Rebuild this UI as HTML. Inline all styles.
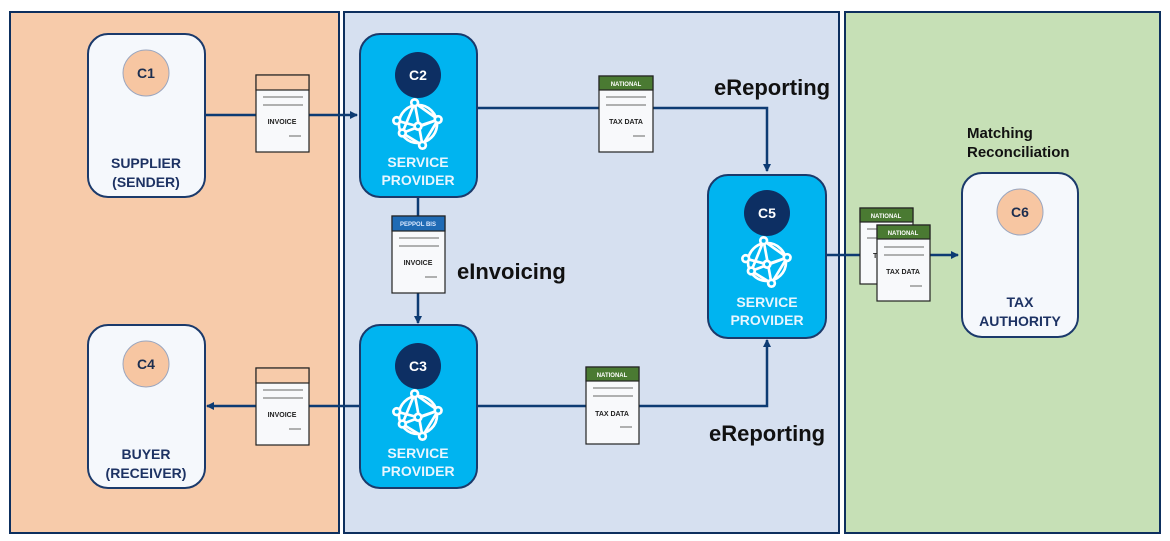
<!DOCTYPE html>
<html><head><meta charset="utf-8"><style>
html,body{margin:0;padding:0;background:#fff;width:1170px;height:541px;overflow:hidden}
text{font-family:"Liberation Sans",sans-serif}
</style></head><body>
<svg width="1170" height="541" viewBox="0 0 1170 541" xmlns="http://www.w3.org/2000/svg">
<defs>
<marker id="ar" markerWidth="8" markerHeight="8" refX="7" refY="4" orient="auto" markerUnits="userSpaceOnUse"><path d="M0,0 L8,4 L0,8 z" fill="#0d3b73"/></marker>
<g id="globe" fill="none" stroke="#fff" stroke-width="2.4" transform="scale(1.12)">
<circle cx="0" cy="0" r="17"/>
<path d="M-3,-19 L-14,8 L4,19 L18,-4 L-3,-19 M-14,8 L18,-4 M-3,-19 L4,19 M-19,-3 L0,2 L18,-4"/>
<circle cx="-3" cy="-19" r="3" fill="#00b4f0"/><circle cx="-14" cy="8" r="3" fill="#00b4f0"/><circle cx="4" cy="19" r="3" fill="#00b4f0"/><circle cx="18" cy="-4" r="3" fill="#00b4f0"/><circle cx="-19" cy="-3" r="3" fill="#00b4f0"/><circle cx="0" cy="2" r="3" fill="#00b4f0"/>
</g>
</defs>
<rect x="10" y="12" width="329" height="521" fill="#f7cbaa" stroke="#0d2f5e" stroke-width="2"/>
<rect x="344" y="12" width="495" height="521" fill="#d6e0f0" stroke="#0d2f5e" stroke-width="2"/>
<rect x="845" y="12" width="315" height="521" fill="#c6e0b6" stroke="#0d2f5e" stroke-width="2"/>

<g stroke="#0d3b73" stroke-width="2.5" fill="none">
<line x1="205" y1="115" x2="357" y2="115" marker-end="url(#ar)"/>
<polyline points="477,108 767,108 767,171" marker-end="url(#ar)"/>
<line x1="418" y1="197" x2="418" y2="323" marker-end="url(#ar)"/>
<line x1="360" y1="406" x2="207" y2="406" marker-end="url(#ar)"/>
<polyline points="477,406 767,406 767,340" marker-end="url(#ar)"/>
<line x1="826" y1="255" x2="958" y2="255" marker-end="url(#ar)"/>
</g>

<g stroke="#1b3a6b" stroke-width="2">
<rect x="88" y="34" width="117" height="163" rx="20" fill="#f5f8fc"/>
<rect x="88" y="325" width="117" height="163" rx="20" fill="#f5f8fc"/>
<rect x="962" y="173" width="116" height="164" rx="20" fill="#f5f8fc"/>
<rect x="360" y="34" width="117" height="163" rx="20" fill="#00b4f0"/>
<rect x="360" y="325" width="117" height="163" rx="20" fill="#00b4f0"/>
<rect x="708" y="175" width="118" height="163" rx="20" fill="#00b4f0"/>
</g>
<g stroke="#9aa6bf" stroke-width="1">
<circle cx="146" cy="73" r="23" fill="#f7c6a2"/>
<circle cx="146" cy="364" r="23" fill="#f7c6a2"/>
<circle cx="1020" cy="212" r="23" fill="#f7c6a2"/>
</g>
<circle cx="418" cy="75" r="23" fill="#0d2f63"/>
<circle cx="418" cy="366" r="23" fill="#0d2f63"/>
<circle cx="767" cy="213" r="23" fill="#0d2f63"/>
<g font-weight="bold" font-size="14" text-anchor="middle">
<text x="146" y="78" fill="#1d2e4f">C1</text>
<text x="146" y="369" fill="#1d2e4f">C4</text>
<text x="1020" y="217" fill="#1d2e4f">C6</text>
<text x="418" y="80" fill="#fff">C2</text>
<text x="418" y="371" fill="#fff">C3</text>
<text x="767" y="218" fill="#fff">C5</text>
</g>
<use href="#globe" x="418" y="124"/>
<use href="#globe" x="418" y="415"/>
<use href="#globe" x="767" y="262"/>
<g font-weight="bold" font-size="14" text-anchor="middle">
<text x="146" y="168" fill="#1d3263">SUPPLIER</text><text x="146" y="187" fill="#1d3263">(SENDER)</text>
<text x="146" y="459" fill="#1d3263">BUYER</text><text x="146" y="478" fill="#1d3263">(RECEIVER)</text>
<text x="1020" y="307" fill="#1d3263">TAX</text><text x="1020" y="326" fill="#1d3263">AUTHORITY</text>
<text x="418" y="167" fill="#e8f6ff">SERVICE</text><text x="418" y="185" fill="#e8f6ff">PROVIDER</text>
<text x="418" y="458" fill="#e8f6ff">SERVICE</text><text x="418" y="476" fill="#e8f6ff">PROVIDER</text>
<text x="767" y="307" fill="#e8f6ff">SERVICE</text><text x="767" y="325" fill="#e8f6ff">PROVIDER</text>
</g>

<g font-weight="bold" font-size="7" text-anchor="middle">
<rect x="256" y="75" width="53" height="77" fill="#f8f9fb" stroke="#222" stroke-width="1.2"/>
<rect x="256" y="75" width="53" height="15" fill="#f7cbaa" stroke="#222" stroke-width="1.2"/>
<path d="M263,97h40M263,105h40M289,136h12" stroke="#666" stroke-width="1"/>
<text x="282" y="124" fill="#222">INVOICE</text>
<rect x="256" y="368" width="53" height="77" fill="#f8f9fb" stroke="#222" stroke-width="1.2"/>
<rect x="256" y="368" width="53" height="15" fill="#f7cbaa" stroke="#222" stroke-width="1.2"/>
<path d="M263,390h40M263,398h40M289,429h12" stroke="#666" stroke-width="1"/>
<text x="282" y="417" fill="#222">INVOICE</text>
<rect x="392" y="216" width="53" height="77" fill="#f8f9fb" stroke="#222" stroke-width="1.2"/>
<rect x="392" y="216" width="53" height="15" fill="#1f6bb5" stroke="#222" stroke-width="1.2"/>
<text x="418" y="226" fill="#dce9ff" font-size="6">PEPPOL BIS</text>
<path d="M399,238h40M399,246h40M425,277h12" stroke="#666" stroke-width="1"/>
<text x="418" y="265" fill="#222">INVOICE</text>
<rect x="599" y="76" width="54" height="76" fill="#f8f9fb" stroke="#222" stroke-width="1.2"/>
<rect x="599" y="76" width="54" height="14" fill="#4a7a32" stroke="#222" stroke-width="1.2"/>
<text x="626" y="86" fill="#fff" font-size="6">NATIONAL</text>
<path d="M606,97h40M606,105h40M633,136h12" stroke="#666" stroke-width="1"/>
<text x="626" y="124" fill="#222">TAX DATA</text>
<rect x="586" y="367" width="53" height="77" fill="#f8f9fb" stroke="#222" stroke-width="1.2"/>
<rect x="586" y="367" width="53" height="14" fill="#4a7a32" stroke="#222" stroke-width="1.2"/>
<text x="612" y="377" fill="#fff" font-size="6">NATIONAL</text>
<path d="M593,388h40M593,396h40M620,427h12" stroke="#666" stroke-width="1"/>
<text x="612" y="416" fill="#222">TAX DATA</text>
<rect x="860" y="208" width="53" height="76" fill="#f8f9fb" stroke="#222" stroke-width="1.2"/>
<rect x="860" y="208" width="53" height="14" fill="#4a7a32" stroke="#222" stroke-width="1.2"/>
<text x="886" y="218" fill="#fff" font-size="6">NATIONAL</text>
<path d="M867,229h12M867,238h12" stroke="#666" stroke-width="1"/>
<text x="873" y="258" fill="#222" text-anchor="start">TA</text>
<rect x="877" y="225" width="53" height="76" fill="#f8f9fb" stroke="#222" stroke-width="1.2"/>
<rect x="877" y="225" width="53" height="14" fill="#4a7a32" stroke="#222" stroke-width="1.2"/>
<text x="903" y="235" fill="#fff" font-size="6">NATIONAL</text>
<path d="M884,247h40M884,255h40M910,286h12" stroke="#666" stroke-width="1"/>
<text x="903" y="274" fill="#222">TAX DATA</text>
</g>

<g font-weight="bold" fill="#111">
<text x="714" y="95" font-size="22">eReporting</text>
<text x="709" y="441" font-size="22">eReporting</text>
<text x="457" y="279" font-size="22">eInvoicing</text>
<text x="967" y="138" font-size="15">Matching</text>
<text x="967" y="157" font-size="15">Reconciliation</text>
</g>
</svg>
</body></html>
